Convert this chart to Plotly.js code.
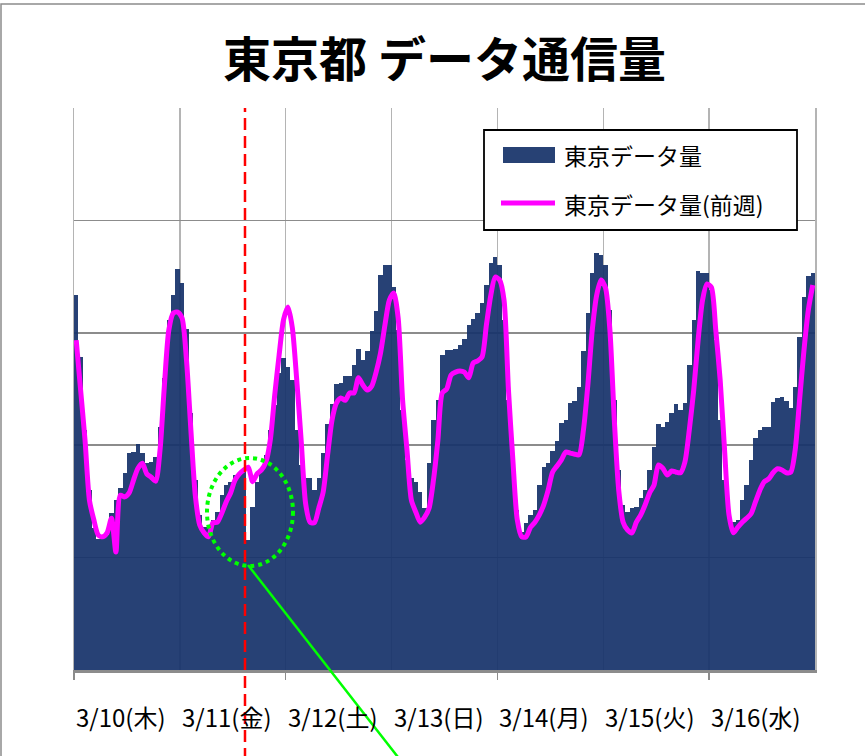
<!DOCTYPE html>
<html>
<head>
<meta charset="utf-8">
<script src="https://cdn.plot.ly/plotly-3.0.1.min.js"></script>
<style>
  html, body { margin: 0; padding: 0; background: #ffffff; }
  #chart { width: 865px; height: 756px; }
</style>
</head>
<body>
<div id="chart"></div>
<script>
// ---- data ----
const chartTitle = "東京都 データ通信量";
const seriesThisWeek = "東京データ量";
const seriesPrevWeek = "東京データ量(前週)";
const dayLabels = ["3/10(木)", "3/11(金)", "3/12(土)", "3/13(日)", "3/14(月)", "3/15(火)", "3/16(水)"];
const quakeHour = 24 + 14 + 46 / 60;  // 3/11 14:46

// hourly traffic, this week (relative units)
const thisWeek = [
  66.7, 55.7, 42.7, 32.0, 25.3, 23.3, 24.0, 24.0, 27.9, 30.2, 32.4, 35.1, 38.6, 38.8, 40.2, 38.6, 36.8, 37.0, 37.9, 43.2, 52.0, 62.3, 66.7, 71.4,
  68.9, 60.7, 45.7, 33.8, 27.6, 25.4, 25.4, 26.7, 28.1, 31.1, 32.9, 33.5, 34.7, 35.1, 35.6, 23.1, 29.0, 33.5, 35.6, 38.3, 42.7, 47.2, 52.8, 55.5,
  53.9, 51.6, 42.7, 36.5, 34.2, 34.2, 32.0, 34.2, 38.6, 43.8, 47.3, 50.9, 51.1, 52.3, 52.3, 54.3, 57.1, 55.2, 56.8, 60.3, 63.9, 70.3, 72.1, 72.1,
  68.1, 60.5, 46.3, 37.4, 34.2, 33.5, 31.7, 28.8, 36.8, 44.5, 48.0, 56.0, 56.9, 56.9, 57.1, 57.8, 58.9, 61.4, 62.5, 63.5, 65.3, 68.5, 72.4, 73.5,
  72.1, 62.3, 48.0, 35.6, 28.5, 24.6, 26.2, 27.6, 28.5, 32.9, 36.1, 36.8, 39.0, 40.7, 44.0, 44.5, 47.5, 47.9, 50.4, 56.8, 63.5, 70.6, 74.2, 73.8,
  72.1, 64.1, 48.0, 35.6, 29.4, 28.1, 28.8, 29.0, 30.6, 32.0, 35.6, 39.7, 43.8, 43.2, 44.1, 45.7, 47.3, 46.3, 47.5, 54.3, 62.3, 71.0, 70.6, 70.6,
  67.6, 58.7, 44.5, 33.8, 27.6, 26.3, 26.7, 30.2, 32.9, 37.4, 41.3, 42.7, 43.2, 43.2, 47.7, 48.4, 48.6, 47.9, 46.6, 50.4, 59.3, 66.4, 70.1, 70.6
];

// hourly traffic, previous week (relative units)
const prevWeek = [
  58.7, 49.8, 40.9, 30.2, 26.7, 24.0, 23.7, 24.4, 27.0, 21.0, 31.1, 30.8, 31.5, 33.8, 35.9, 36.8, 34.9, 34.3, 33.6, 39.1, 50.7, 60.5, 63.5, 63.7,
  62.6, 55.2, 42.7, 31.1, 25.8, 24.4, 23.7, 26.2, 26.3, 27.9, 29.9, 31.5, 33.8, 34.9, 35.6, 36.1, 33.5, 34.9, 35.6, 37.0, 40.9, 48.9, 56.0, 62.3,
  64.6, 60.9, 51.6, 40.9, 29.7, 26.3, 26.2, 28.8, 31.7, 38.3, 44.5, 47.5, 48.4, 48.0, 49.3, 49.3, 52.0, 50.7, 49.8, 50.5, 53.0, 56.4, 61.4, 65.8,
  67.1, 62.6, 48.0, 39.1, 30.2, 28.1, 26.3, 27.2, 28.8, 33.8, 40.9, 49.3, 50.0, 52.5, 53.0, 53.2, 53.0, 52.0, 54.6, 55.0, 55.7, 61.4, 66.7, 69.9,
  69.4, 65.8, 49.8, 37.4, 26.7, 23.7, 23.7, 25.4, 26.3, 27.6, 29.4, 32.0, 35.2, 36.3, 37.4, 38.8, 38.6, 38.4, 38.3, 42.7, 50.7, 60.5, 66.7, 69.4,
  68.0, 60.5, 44.5, 32.0, 26.3, 24.9, 24.4, 26.3, 27.6, 29.4, 31.5, 32.9, 36.5, 35.9, 34.7, 35.4, 35.2, 35.1, 37.0, 42.7, 49.8, 58.7, 65.8, 68.7,
  68.1, 60.5, 51.6, 39.1, 27.6, 24.4, 25.4, 26.3, 27.0, 27.8, 29.9, 32.0, 33.5, 34.0, 35.1, 35.8, 35.6, 35.1, 35.2, 39.1, 48.0, 56.9, 64.1, 68.5
];

// ---- layout helpers (pixel -> paper) ----
const W = 865, H = 756, ML = 74, MR = 50, MT = 108, MB = 86;
const PW = W - ML - MR, PH = H - MT - MB;
const px = x => (x - ML) / PW;
const py = y => (H - MB - y) / PH;

const hoursPerDay = 24;
const nHours = thisWeek.length;
const hours = thisWeek.map((_, i) => i + 0.5);

const barColor = "rgb(23,51,106)";
const lineColor = "#ff00ff";
const jp = "Noto Sans CJK JP, Noto Sans, sans-serif";

const traces = [
  {
    type: "bar", name: seriesThisWeek, x: hours, y: thisWeek,
    marker: { color: barColor, opacity: 0.93, line: { width: 0 } },
    width: 1, showlegend: false, hoverinfo: "skip"
  },
  {
    type: "scatter", mode: "lines", name: seriesPrevWeek, x: hours, y: prevWeek,
    line: { color: lineColor, width: 5, shape: "spline", smoothing: 0.7 },
    showlegend: false, hoverinfo: "skip"
  }
];

const dayStarts = dayLabels.map((_, d) => d * hoursPerDay);

const annotations = dayLabels.map((t, d) => ({
  text: t, xref: "x", yref: "paper", x: dayStarts[d], y: py(717),
  xanchor: "left", yanchor: "middle", showarrow: false,
  font: { family: jp, size: 24, color: "#000" }
}));
annotations.push(
  { text: seriesThisWeek, xref: "paper", yref: "paper", x: px(562), y: py(155),
    xanchor: "left", yanchor: "middle", showarrow: false, font: { family: jp, size: 23, color: "#000" } },
  { text: seriesPrevWeek, xref: "paper", yref: "paper", x: px(562), y: py(204),
    xanchor: "left", yanchor: "middle", showarrow: false, font: { family: jp, size: 23, color: "#000" } }
);

const quakeX = quakeHour / nHours;

const shapes = [
  // outer frame
  { type: "rect", xref: "paper", yref: "paper", x0: px(1), x1: px(880), y0: py(780), y1: py(4),
    line: { color: "#8c8c8c", width: 1.5 }, fillcolor: "rgba(0,0,0,0)", layer: "below" },
  // legend box
  { type: "rect", xref: "paper", yref: "paper", x0: px(484), x1: px(797), y0: py(230), y1: py(130),
    line: { color: "#000", width: 1.8 }, fillcolor: "#ffffff", layer: "above" },
  { type: "rect", xref: "paper", yref: "paper", x0: px(503), x1: px(555), y0: py(163), y1: py(147),
    line: { width: 0 }, fillcolor: "rgb(39,65,116)", layer: "above" },
  { type: "line", xref: "paper", yref: "paper", x0: px(501), x1: px(555), y0: py(203), y1: py(203),
    line: { color: lineColor, width: 5 }, layer: "above" },
  // earthquake marker
  { type: "line", xref: "paper", yref: "paper", x0: quakeX, x1: quakeX, y0: py(760), y1: 1,
    line: { color: "#ff0000", width: 2.5, dash: "12px,6px" }, layer: "above" },
  // highlight circle
  { type: "circle", xref: "paper", yref: "paper", x0: px(207), x1: px(293), y0: py(566), y1: py(458),
    line: { color: "#00ff00", width: 4, dash: "dot" }, fillcolor: "rgba(0,0,0,0)", layer: "above" },
  // pointer line
  { type: "line", xref: "paper", yref: "paper", x0: px(248), y0: py(565), x1: px(401), y1: py(761),
    line: { color: "#00ff00", width: 2.5 }, layer: "above" }
];

const layout = {
  width: W, height: H,
  margin: { l: ML, r: MR, t: MT, b: MB, pad: 0 },
  paper_bgcolor: "#ffffff", plot_bgcolor: "#ffffff",
  title: {
    text: "<b>" + chartTitle + "</b>",
    font: { family: jp, size: 48, color: "#000" },
    xref: "paper", x: 0.5, xanchor: "center",
    yref: "container", y: 1 - 60 / H, yanchor: "middle"
  },
  bargap: 0,
  showlegend: false,
  xaxis: {
    range: [0, nHours], fixedrange: true,
    tickvals: [0, 48, 96, 144], ticks: "outside", ticklen: 7, tickwidth: 1.5, tickcolor: "#8c8c8c",
    showticklabels: false,
    showgrid: true, gridcolor: "#b4b4b4", gridwidth: 1.5,
    minor: { dtick: hoursPerDay, tick0: 0, showgrid: true, gridcolor: "#b4b4b4", gridwidth: 1.5, ticks: "" },
    showline: true, linecolor: "#8c8c8c", linewidth: 2.5,
    zeroline: false
  },
  yaxis: {
    range: [0, 100], dtick: 20, fixedrange: true,
    showticklabels: false, ticks: "",
    showgrid: true, gridcolor: "#8c8c8c", gridwidth: 1.5,
    showline: true, mirror: true, linecolor: "#b4b4b4", linewidth: 1.5,
    zeroline: false
  },
  shapes: shapes,
  annotations: annotations
};

Plotly.newPlot("chart", traces, layout, { staticPlot: true, displayModeBar: false });
</script>
</body>
</html>
